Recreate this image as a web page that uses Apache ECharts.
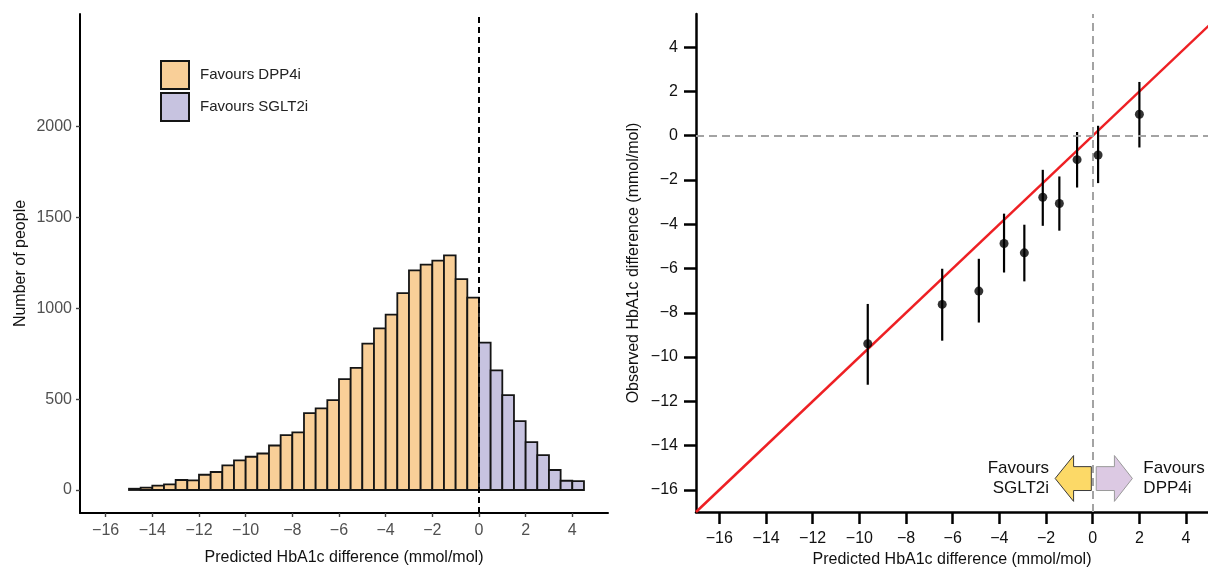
<!DOCTYPE html>
<html><head><meta charset="utf-8">
<script src="https://cdn.jsdelivr.net/npm/echarts@6/dist/echarts.min.js"></script>
<style>html,body{margin:0;padding:0;background:#fff}#c{width:1208px;height:568px}</style>
</head><body><div id="c"></div>
<script>
// ---------- Left panel: histogram ----------
const dppBinStart = [-15,-14.5,-14,-13.5,-13,-12.5,-12,-11.5,-11,-10.5,-10,-9.5,-9,-8.5,-8,-7.5,-7,-6.5,-6,-5.5,-5,-4.5,-4,-3.5,-3,-2.5,-2,-1.5,-1,-0.5];
const dppCounts   = [7,13,24,31,55,53,84,99,136,163,183,201,245,302,317,423,449,495,610,672,806,890,965,1084,1209,1240,1262,1291,1161,1059];
const sgltBinStart = [0,0.5,1,1.5,2,2.5,3,3.5,4];
const sgltCounts   = [811,658,522,379,264,192,110,51,49];
const binWidth = 0.5;
const histXTicks = [-16,-14,-12,-10,-8,-6,-4,-2,0,2,4];
const histYTicks = [0,500,1000,1500,2000];
const legendNames = ['Favours DPP4i','Favours SGLT2i'];

// ---------- Right panel: calibration ----------
const predX = [-9.64,-6.45,-4.88,-3.80,-2.93,-2.14,-1.43,-0.67,0.23,2.0];
const obsY  = [-9.40,-7.62,-7.02,-4.87,-5.29,-2.78,-3.06,-1.08,-0.87,0.97];
const obsLo = [-11.25,-9.26,-8.44,-6.18,-6.58,-4.07,-4.29,-2.34,-2.14,-0.53];
const obsHi = [-7.60,-6.01,-5.56,-3.52,-4.02,-1.54,-1.84,0.17,0.45,2.43];
const identityLine = [[-17,-17],[5,5]];
const calXTicks = [-16,-14,-12,-10,-8,-6,-4,-2,0,2,4];
const calYTicks = [-16,-14,-12,-10,-8,-6,-4,-2,0,2,4];
// arrows (data coords)
const arrowY = [-14.45,-14.95,-16.03,-16.52];      // head top, shaft top, shaft bottom, head bottom
const leftArrowX  = [-1.61,-0.82,-0.06];           // tip, head base, tail
const rightArrowX = [0.15,0.93,1.70];              // tail, head base, tip
const arrowLabels = ['Favours\nSGLT2i','Favours\nDPP4i'];
const arrowLabelX = [-1.87,2.17];
const arrowLabelY = [-15.5,-15.5];

const FONT = 'Liberation Sans, Arial, sans-serif';
const minus = v => String(v).replace('-', '\u2212');

function histItem(color){
  return function(params, api){
    const p0 = api.coord([api.value(0), api.value(2)]);
    const p1 = api.coord([api.value(1), 0]);
    return {type:'rect', shape:{x:p0[0], y:p0[1], width:p1[0]-p0[0], height:p1[1]-p0[1]},
      style:{fill:color, stroke:'#151515', lineWidth:1.8}};
  };
}

const chart = echarts.init(document.getElementById('c'), null, {renderer:'canvas'});
const axisCommon = (ticks, col, lineW, tickLen, tickW, tickCol, margin) => ({
  axisLine:{show:true, onZero:false, lineStyle:{color:'#000', width:lineW}},
  axisTick:{show:true, customValues:ticks, length:tickLen, lineStyle:{color:tickCol, width:tickW}},
  axisLabel:{customValues:ticks, formatter:minus, color:col, fontSize:16, fontFamily:FONT, margin:margin},
  splitLine:{show:false}
});
const titleStyle = {fontSize:16, color:'#111', fontFamily:FONT};

chart.setOption({
  animation:false,
  backgroundColor:'#fff',
  legend:{
    data:legendNames, orient:'vertical', left:160, top:60, padding:0,
    itemWidth:28, itemHeight:28, itemGap:2, icon:'rect',
    itemStyle:{borderColor:'#151515', borderWidth:2},
    textStyle:{fontSize:15, color:'#222', fontFamily:FONT, padding:[0,0,0,6]},
    selectedMode:false
  },
  grid:[
    {left:80, top:14, width:528, height:499, containLabel:false, outerBoundsMode:'none'},
    {left:696, top:14, width:512, height:498, containLabel:false, outerBoundsMode:'none'}
  ],
  xAxis:[
    Object.assign({gridIndex:0, type:'value', min:-17.1, max:5.53,
      name:'Predicted HbA1c difference (mmol/mol)', nameLocation:'middle', nameGap:37,
      nameTextStyle:titleStyle}, axisCommon(histXTicks,'#505050',2,4,1.4,'#444',10)),
    Object.assign({gridIndex:1, type:'value', min:-17, max:4.94,
      name:'Predicted HbA1c difference (mmol/mol)', nameLocation:'middle', nameGap:38,
      nameTextStyle:titleStyle}, axisCommon(calXTicks,'#111',2.5,12,2.5,'#000',19))
  ],
  yAxis:[
    Object.assign({gridIndex:0, type:'value', min:-126.6, max:2620,
      name:'Number of people', nameLocation:'middle', nameGap:51,
      nameTextStyle:titleStyle}, axisCommon(histYTicks,'#505050',2,4,1.4,'#444',8)),
    Object.assign({gridIndex:1, type:'value', min:-17, max:5.5,
      name:'Observed HbA1c difference (mmol/mol)', nameLocation:'middle', nameGap:54,
      nameTextStyle:titleStyle}, axisCommon(calYTicks,'#111',2.5,12,2.5,'#000',18))
  ],
  series:[
    {name:legendNames[0], type:'custom', xAxisIndex:0, yAxisIndex:0,
      itemStyle:{color:'#F9CF98', borderColor:'#151515', borderWidth:2},
      encode:{x:[0,1], y:2},
      data:dppBinStart.map((s,i)=>[s, s+binWidth, dppCounts[i]]),
      renderItem:histItem('#F9CF98'),
      markLine:{silent:true, symbol:'none', label:{show:false},
        lineStyle:{color:'#000', type:[6,4], width:2}, data:[{xAxis:0}]}
    },
    {name:legendNames[1], type:'custom', xAxisIndex:0, yAxisIndex:0,
      itemStyle:{color:'#C7C3E0', borderColor:'#151515', borderWidth:2},
      encode:{x:[0,1], y:2},
      data:sgltBinStart.map((s,i)=>[s, s+binWidth, sgltCounts[i]]),
      renderItem:histItem('#C7C3E0')
    },
    // arrows + reference dashed lines
    {type:'custom', xAxisIndex:1, yAxisIndex:1, z:1,
      data:[[0],[1]],
      renderItem:function(params, api){
        const i = params.dataIndex;
        const mid = (arrowY[0]+arrowY[3])/2;
        let pts;
        if(i===0){
          const [tip,base,tail] = leftArrowX;
          pts = [[tip,mid],[base,arrowY[0]],[base,arrowY[1]],[tail,arrowY[1]],[tail,arrowY[2]],[base,arrowY[2]],[base,arrowY[3]]];
        } else {
          const [tail,base,tip] = rightArrowX;
          pts = [[tail,arrowY[1]],[base,arrowY[1]],[base,arrowY[0]],[tip,mid],[base,arrowY[3]],[base,arrowY[2]],[tail,arrowY[2]]];
        }
        return {type:'polygon', shape:{points:pts.map(p=>api.coord(p))},
          style:{fill: i===0?'#FCD967':'#DCC9E3', stroke: i===0?'#3a3a3a':'#9a9a9a', lineWidth:1}};
      },
      markLine:{silent:true, symbol:'none', label:{show:false},
        lineStyle:{color:'#a3a3a3', type:[8,5], width:2}, data:[{xAxis:0},{yAxis:0}]}
    },
    // arrow labels
    {type:'custom', xAxisIndex:1, yAxisIndex:1, z:2,
      data:arrowLabels.map((t,i)=>[arrowLabelX[i], arrowLabelY[i]]),
      renderItem:function(params, api){
        const i = params.dataIndex;
        const p = api.coord([api.value(0), api.value(1)]);
        return {type:'text', x:p[0], y:p[1], style:{text:arrowLabels[i], align:i===0?'right':'left',
          verticalAlign:'middle', fill:'#111', font:'17px '+FONT, lineHeight:20}};
      }
    },
    {type:'line', xAxisIndex:1, yAxisIndex:1, z:3, data:identityLine, symbol:'none',
      lineStyle:{color:'#EE2024', width:2.5}, clip:true},
    {type:'custom', xAxisIndex:1, yAxisIndex:1, z:4,
      encode:{x:0, y:[1,2]},
      data:predX.map((x,i)=>[x, obsLo[i], obsHi[i]]),
      renderItem:function(params, api){
        const a = api.coord([api.value(0), api.value(1)]);
        const b = api.coord([api.value(0), api.value(2)]);
        return {type:'line', shape:{x1:a[0], y1:a[1], x2:b[0], y2:b[1]}, style:{stroke:'#000', lineWidth:2.2}};
      }
    },
    {type:'scatter', xAxisIndex:1, yAxisIndex:1, z:5, symbolSize:9,
      itemStyle:{color:'#000'}, data:predX.map((x,i)=>[x, obsY[i]])}
  ]
});
</script></body></html>
